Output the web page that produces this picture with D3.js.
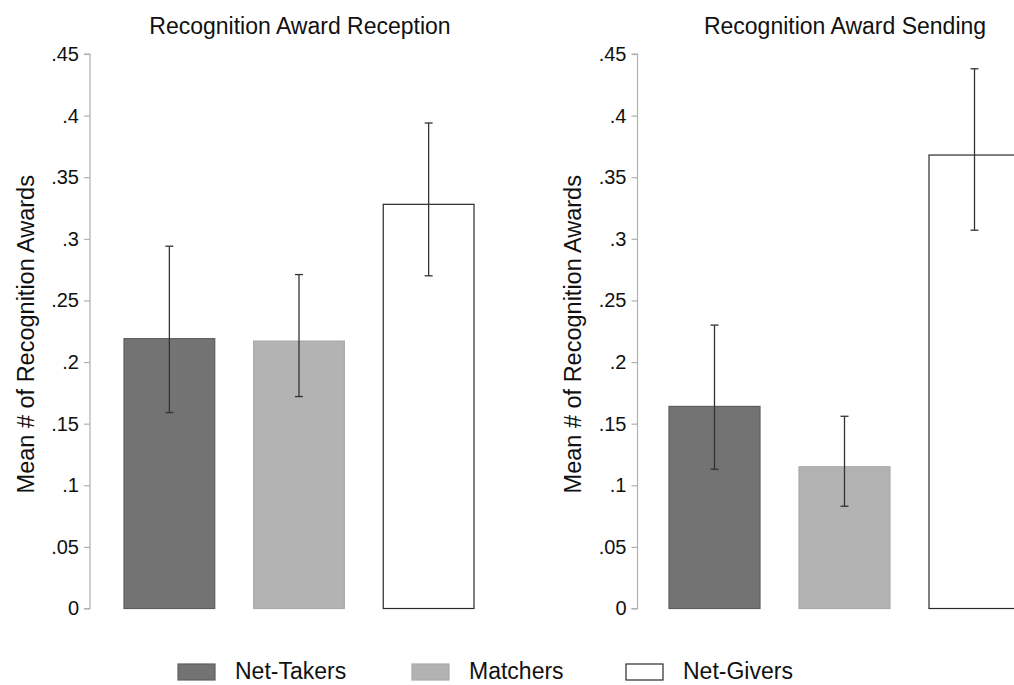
<!DOCTYPE html>
<html><head><meta charset="utf-8">
<script src="https://cdn.jsdelivr.net/npm/d3@7"></script>
<style>body{margin:0;background:#fff;} text{font-family:"Liberation Sans",Arial,sans-serif;}</style>
</head><body>
<svg id="chart" width="1014" height="685"></svg>
<script>
const categories = ["Net-Takers", "Matchers", "Net-Givers"];
const panelTitles = ["Recognition Award Reception", "Recognition Award Sending"];
const receptionMean = [0.219, 0.217, 0.328];
const receptionLow  = [0.159, 0.172, 0.270];
const receptionHigh = [0.294, 0.271, 0.394];
const sendingMean = [0.164, 0.115, 0.368];
const sendingLow  = [0.113, 0.083, 0.307];
const sendingHigh = [0.230, 0.156, 0.438];
const tickValues = [0, 0.05, 0.1, 0.15, 0.2, 0.25, 0.3, 0.35, 0.4, 0.45];
const tickLabels = ["0", ".05", ".1", ".15", ".2", ".25", ".3", ".35", ".4", ".45"];
const yLabel = "Mean # of Recognition Awards";

const fills = ["#737373", "#b3b3b3", "#ffffff"];
const strokes = ["#5e5e5e", "#a8a8a8", "#2a2a2a"];

const svg = d3.select("#chart");
const y = d3.scaleLinear().domain([0, 0.45]).range([608.5, 54]);

const panels = [
  {title: panelTitles[0], mean: receptionMean, lo: receptionLow, hi: receptionHigh, axisX: 90, range: [124, 474], labelX: 26, titleX: 300},
  {title: panelTitles[1], mean: sendingMean, lo: sendingLow, hi: sendingHigh, axisX: 637.5, range: [669, 1020], labelX: 573, titleX: 845}
];

panels.forEach(p => {
  const g = svg.append("g");
  const x = d3.scaleBand().domain(categories).range(p.range).paddingInner(0.3).paddingOuter(0);
  const ax = g.append("g").attr("transform", `translate(${p.axisX},0)`)
    .call(d3.axisLeft(y).tickValues(tickValues).tickFormat((d,i) => tickLabels[i]).tickSize(6).tickPadding(5));
  ax.select(".domain").attr("stroke", "#b0b0b0").attr("stroke-width", 1.2).attr("d", `M-6,${y(0)}H0V${y(0.45)}H-6`);
  ax.selectAll(".tick line").attr("stroke", "#b0b0b0").attr("stroke-width", 1.2);
  ax.selectAll(".tick text").attr("fill", "#111").style("font-size", "20px").style("font-family", "Liberation Sans, Arial, sans-serif");
  g.append("text").attr("transform", `translate(${p.labelX},${(y(0)+y(0.45))/2 + 3}) rotate(-90)`)
    .attr("text-anchor", "middle").attr("dy", "0.35em").style("font-size", "23.5px").attr("fill", "#111").text(yLabel);
  g.append("text").attr("x", p.titleX).attr("y", 34).attr("text-anchor", "middle")
    .style("font-size", "23px").attr("fill", "#111").text(p.title);
  g.selectAll("rect.bar").data(categories).enter().append("rect")
    .attr("x", d => x(d)).attr("width", x.bandwidth())
    .attr("y", (d,i) => y(p.mean[i])).attr("height", (d,i) => y(0) - y(p.mean[i]))
    .attr("fill", (d,i) => fills[i]).attr("stroke", (d,i) => strokes[i]).attr("stroke-width", 1.2);
  categories.forEach((c,i) => {
    const cx = x(c) + x.bandwidth()/2;
    const eg = g.append("g").attr("stroke", "#333").attr("stroke-width", 1.3);
    eg.append("line").attr("x1", cx).attr("x2", cx).attr("y1", y(p.lo[i])).attr("y2", y(p.hi[i]));
    eg.append("line").attr("x1", cx-4).attr("x2", cx+4).attr("y1", y(p.lo[i])).attr("y2", y(p.lo[i]));
    eg.append("line").attr("x1", cx-4).attr("x2", cx+4).attr("y1", y(p.hi[i])).attr("y2", y(p.hi[i]));
  });
});

const legendX = [178, 412, 626];
const lg = svg.append("g");
categories.forEach((c,i) => {
  lg.append("rect").attr("x", legendX[i]).attr("y", 664).attr("width", 37).attr("height", 16)
    .attr("fill", fills[i]).attr("stroke", strokes[i]).attr("stroke-width", 1.2);
  lg.append("text").attr("x", legendX[i] + 57).attr("y", 679).style("font-size", "23px").attr("fill", "#111").text(c);
});
</script>
</body></html>
